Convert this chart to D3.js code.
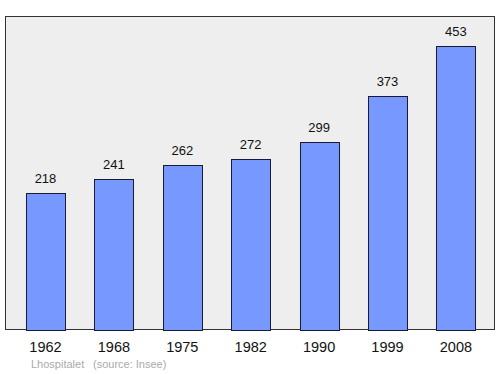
<!DOCTYPE html>
<html>
<head>
<meta charset="utf-8">
<script src="https://cdn.jsdelivr.net/npm/d3@7"></script>
<style>
  body { margin: 0; background: #fff; }
  svg { display: block; font-family: "Liberation Sans", Arial, sans-serif; }
</style>
</head>
<body>
<div id="chart-area"></div>
<script>
var years = ["1962", "1968", "1975", "1982", "1990", "1999", "2008"]
var population = [218, 241, 262, 272, 299, 373, 453]
var commune = "Lhospitalet"
var source = "(source: Insee)"

var width = 500
var height = 374

var svg = d3.select("#chart-area")
  .append("svg")
  .attr("width", width)
  .attr("height", height)

// grey panel
svg.append("rect")
  .attr("x", 5.5)
  .attr("y", 16.5)
  .attr("width", 489)
  .attr("height", 313)
  .attr("fill", "#eeeeee")
  .attr("stroke", "#333")
  .attr("stroke-width", 1)

var x = d3.scaleBand().domain(years).range([11.3, 490.1]).paddingInner(0.43).paddingOuter(0.215)
var y = d3.scaleLinear().domain([0, 500]).range([329.5, 16.5])

var data = years.map((d, i) => ({year: d, value: population[i]}))

svg.selectAll("rect.bar")
  .data(data)
  .enter()
  .append("rect")
  .attr("class", "bar")
  .attr("x", d => Math.round(x(d.year)) + 0.5)
  .attr("y", d => Math.round(y(d.value)) + 0.5)
  .attr("width", Math.round(x.bandwidth()))
  .attr("height", d => Math.round(y(0)) - Math.round(y(d.value)))
  .attr("fill", "#7799ff")
  .attr("stroke", "#1a1a33")
  .attr("stroke-width", 1)

svg.selectAll("text.val")
  .data(data)
  .enter()
  .append("text")
  .attr("class", "val")
  .attr("x", d => x(d.year) + x.bandwidth() / 2)
  .attr("y", d => y(d.value) - 10)
  .attr("text-anchor", "middle")
  .attr("font-size", "13px")
  .attr("fill", "#111")
  .text(d => d.value)

svg.selectAll("text.year")
  .data(years)
  .enter()
  .append("text")
  .attr("class", "year")
  .attr("x", d => x(d) + x.bandwidth() / 2)
  .attr("y", 352)
  .attr("text-anchor", "middle")
  .attr("font-size", "14.5px")
  .attr("fill", "#111")
  .text(d => d)

svg.append("text")
  .attr("x", 31)
  .attr("y", 368)
  .attr("font-size", "11px")
  .attr("fill", "#aaa")
  .text(commune)

svg.append("text")
  .attr("x", 93)
  .attr("y", 368)
  .attr("font-size", "11px")
  .attr("fill", "#aaa")
  .text(source)
</script>
</body>
</html>
